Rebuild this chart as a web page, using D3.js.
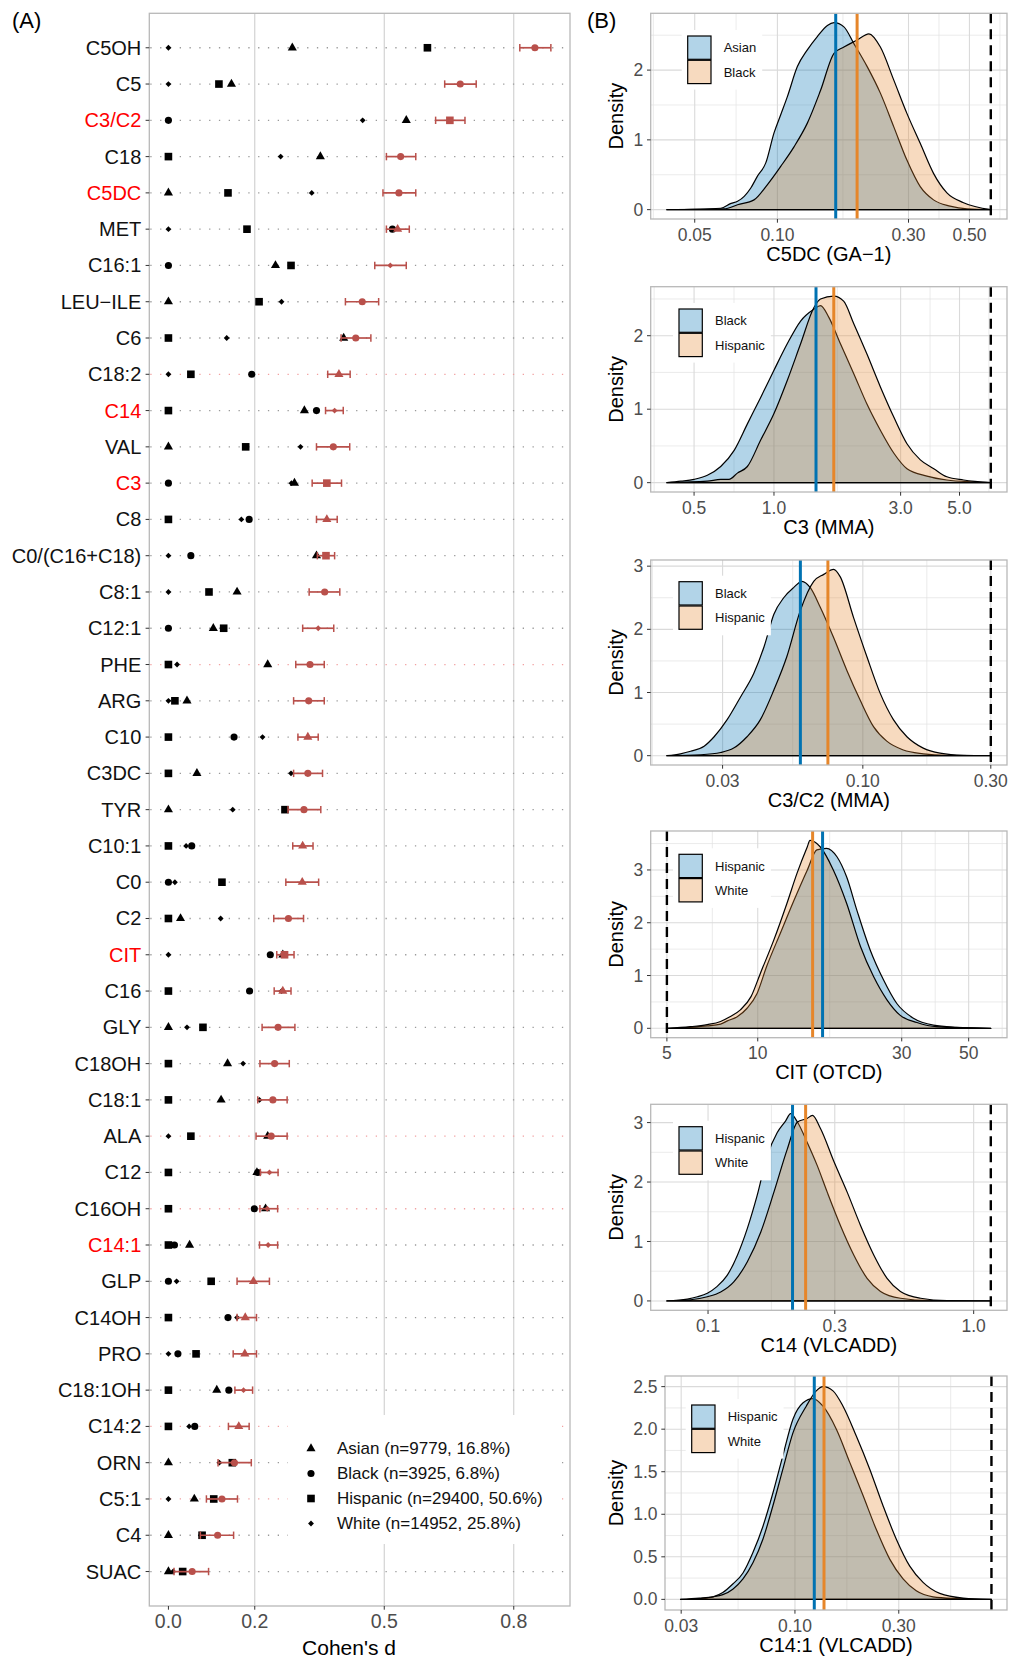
<!DOCTYPE html>
<html>
<head>
<meta charset="utf-8">
<script src="https://cdn.jsdelivr.net/npm/d3@7"></script>
<style>
  body { margin: 0; background: #fff; }
  svg { font-family: "Liberation Sans", Arial, sans-serif; }
</style>
</head>
<body>
<svg width="1020" height="1659"></svg>
<script>
// ---------- panel A data ----------
const metabolites = ["C5OH","C5","C3/C2","C18","C5DC","MET","C16:1","LEU−ILE","C6","C18:2",
  "C14","VAL","C3","C8","C0/(C16+C18)","C8:1","C12:1","PHE","ARG","C10","C3DC","TYR","C10:1",
  "C0","C2","CIT","C16","GLY","C18OH","C18:1","ALA","C12","C16OH","C14:1","GLP","C14OH","PRO",
  "C18:1OH","C14:2","ORN","C5:1","C4","SUAC"];
const redLabels = ["C3/C2","C5DC","C14","C3","CIT","C14:1"];
const pinkRows = ["C18:2","PHE","ALA","C16OH","C14:2","C5:1"];

const asian = [0.287,0.146,0.551,0.352,0,0.531,0.248,0,0.406,0.395,0.315,0,0.292,0.367,0.343,0.159,
  0.104,0.230,0.043,0.323,0.066,0,0.311,0.310,0.028,0.265,0.265,0,0.137,0.122,0.230,0.205,0.225,
  0.049,0.197,0.178,0.177,0.112,0.163,0,0.060,0,0];
const black = [0.849,0.676,0,0.538,0.534,0.519,0,0.449,0.434,0.193,0.343,0.382,0,0.187,0.052,0.362,
  0,0.328,0.325,0.152,0.323,0.314,0.054,0,0.278,0.236,0.188,0.254,0.246,0.242,0.238,0.207,0.199,
  0.014,0,0.138,0.022,0.140,0.061,0.153,0.124,0.114,0.055];
const hispanic = [0.600,0.117,0.652,0,0.138,0.182,0.284,0.210,0,0.052,0,0.179,0.367,0,0.365,0.094,
  0.128,0,0.015,0,0,0.270,0,0.124,0,0.269,0,0.080,0,0,0.052,0,0,0,0.099,0,0.064,0,0,0.148,0.105,
  0.078,0.033];
const white = [0,0,0.450,0.260,0.332,0,0.514,0.262,0.135,0,0.385,0.306,0.285,0.169,0,0,0.347,0.020,
  0,0.218,0.284,0.149,0.041,0.015,0.121,0,0.262,0.043,0.173,0.211,0,0.234,0.229,0.231,0.019,0.159,
  0,0.174,0.048,0.118,0,0.075,0.011];
const ciLow = [0.814,0.640,0.619,0.505,0.497,0.505,0.478,0.410,0.400,0.369,0.364,0.343,0.333,0.343,
  0.345,0.326,0.311,0.295,0.290,0.300,0.290,0.277,0.288,0.272,0.244,0.251,0.245,0.217,0.212,0.207,
  0.203,0.213,0.212,0.211,0.159,0.159,0.150,0.154,0.139,0.115,0.088,0.074,0.013];
const ciHigh = [0.886,0.713,0.687,0.573,0.573,0.558,0.551,0.487,0.469,0.421,0.405,0.420,0.401,0.391,
  0.385,0.397,0.383,0.361,0.361,0.347,0.357,0.353,0.335,0.348,0.313,0.291,0.284,0.293,0.280,0.275,
  0.275,0.254,0.253,0.253,0.234,0.204,0.204,0.195,0.187,0.192,0.160,0.151,0.093];

const cohenTicks = [0, 0.2, 0.5, 0.8];
const cohenGrid = [0.2, 0.5, 0.8];
const groupNames = ["Asian","Black","Hispanic","White"];
const legendLabels = ["Asian (n=9779, 16.8%)","Black (n=3925, 6.8%)","Hispanic (n=29400, 50.6%)","White (n=14952, 25.8%)"];

// ---------- panel B data: [value, density] ----------
const c5dcAsian = [[0.0396,0],[0.0622,0.02],[0.0678,0.09],[0.0716,0.12],[0.0757,0.19],[0.080,0.31],
  [0.0846,0.48],[0.0907,0.67],[0.0972,1.10],[0.1028,1.36],[0.1087,1.62],[0.1182,2.05],[0.1285,2.29],
  [0.1397,2.48],[0.152,2.64],[0.1607,2.68],[0.1746,2.62],[0.1898,2.38],[0.2122,2.05],[0.237,1.67],
  [0.265,1.19],[0.296,0.71],[0.331,0.33],[0.370,0.14],[0.425,0.05],[0.490,0.01],[0.598,0]];
const c5dcBlack = [[0.0396,0],[0.064,0.01],[0.0716,0.07],[0.0822,0.14],[0.092,0.36],[0.1028,0.62],
  [0.1149,0.90],[0.1285,1.24],[0.1436,1.71],[0.1607,2.24],[0.1746,2.33],[0.195,2.43],[0.2153,2.52],
  [0.237,2.33],[0.265,1.86],[0.296,1.38],[0.331,0.95],[0.370,0.52],[0.414,0.24],[0.476,0.10],[0.598,0]];
const c3Black = [[0.395,0],[0.446,0.02],[0.50,0.045],[0.561,0.10],[0.630,0.22],[0.708,0.44],[0.794,0.80],
  [0.891,1.16],[1.0,1.53],[1.122,1.89],[1.26,2.20],[1.413,2.36],[1.497,2.41],[1.61,2.25],[1.78,1.89],
  [2.0,1.48],[2.24,1.07],[2.52,0.71],[2.83,0.40],[3.17,0.19],[3.77,0.09],[4.48,0.036],[5.65,0.01],[6.56,0]];
const c3Hispanic = [[0.395,0],[0.561,0.02],[0.63,0.045],[0.677,0.045],[0.728,0.13],[0.794,0.22],
  [0.891,0.58],[1.0,0.94],[1.122,1.39],[1.26,1.89],[1.413,2.38],[1.497,2.50],[1.68,2.54],[1.83,2.47],
  [2.0,2.16],[2.24,1.75],[2.52,1.30],[2.83,0.89],[3.17,0.53],[3.56,0.31],[4.0,0.19],[4.48,0.08],
  [5.18,0.036],[6.56,0]];
const c3c2Black = [[0.0186,0],[0.0209,0.03],[0.0228,0.07],[0.0256,0.15],[0.0279,0.30],[0.0312,0.57],
  [0.035,0.93],[0.0392,1.30],[0.0428,1.72],[0.0466,2.24],[0.0507,2.50],[0.0552,2.66],[0.0593,2.76],
  [0.0637,2.66],[0.0694,2.35],[0.0778,1.87],[0.0872,1.35],[0.0977,0.88],[0.1096,0.46],[0.1228,0.23],
  [0.1416,0.09],[0.168,0.03],[0.205,0.005],[0.30,0]];
const c3c2Hispanic = [[0.0186,0],[0.0249,0.015],[0.0295,0.05],[0.033,0.12],[0.037,0.30],[0.0415,0.57],
  [0.0466,1.04],[0.0521,1.57],[0.0585,2.30],[0.0656,2.76],[0.0715,2.87],[0.0778,2.95],[0.0824,2.83],
  [0.0923,2.19],[0.1035,1.57],[0.116,0.99],[0.130,0.57],[0.146,0.30],[0.168,0.12],[0.194,0.04],
  [0.237,0.005],[0.30,0]];
const citHispanic = [[5.0,0],[5.98,0.02],[6.8,0.045],[7.53,0.08],[7.93,0.14],[8.55,0.22],[9.22,0.38],
  [9.95,0.66],[10.7,1.17],[11.9,1.81],[13.2,2.43],[14.6,3.0],[15.7,3.38],[16.9,3.41],[18.3,3.25],
  [19.7,2.87],[21.3,2.24],[23.6,1.48],[26.1,0.92],[28.9,0.47],[32.8,0.19],[38.2,0.06],[45.6,0.02],[59.2,0]];
const citWhite = [[5.0,0],[5.98,0.03],[6.8,0.07],[7.53,0.13],[8.03,0.21],[8.76,0.35],[9.5,0.60],
  [10.2,1.04],[11.3,1.67],[12.5,2.37],[13.5,2.94],[14.6,3.44],[14.9,3.56],[16.1,3.44],[17.8,3.00],
  [19.7,2.37],[21.9,1.55],[24.2,0.98],[26.8,0.54],[29.6,0.25],[33.7,0.11],[39.2,0.03],[59.2,0]];
const c14Hispanic = [[0.070,0],[0.0836,0.03],[0.0912,0.07],[0.0994,0.13],[0.108,0.24],[0.118,0.43],
  [0.129,0.77],[0.1406,1.22],[0.153,1.77],[0.167,2.44],[0.182,2.83],[0.196,3.03],[0.2045,3.15],
  [0.217,3.01],[0.236,2.67],[0.2575,2.28],[0.281,1.83],[0.315,1.27],[0.354,0.77],[0.397,0.38],
  [0.446,0.16],[0.530,0.045],[0.687,0.005],[1.16,0]];
const c14White = [[0.070,0],[0.086,0.02],[0.0994,0.07],[0.1116,0.15],[0.125,0.32],[0.1406,0.66],
  [0.158,1.16],[0.177,1.83],[0.1986,2.55],[0.217,3.01],[0.236,3.07],[0.247,3.12],[0.265,2.90],
  [0.298,2.34],[0.334,1.83],[0.375,1.27],[0.421,0.77],[0.472,0.38],[0.530,0.16],[0.631,0.045],
  [0.794,0.005],[1.16,0]];
const c141Hispanic = [[0.0298,0],[0.0364,0.01],[0.042,0.03],[0.0466,0.08],[0.0518,0.18],[0.0577,0.31],
  [0.0641,0.55],[0.0713,0.86],[0.0792,1.25],[0.088,1.69],[0.098,2.12],[0.109,2.31],[0.121,2.36],
  [0.1346,2.27],[0.155,2.0],[0.1786,1.61],[0.2056,1.22],[0.2366,0.82],[0.273,0.47],[0.314,0.24],
  [0.361,0.10],[0.431,0.03],[0.552,0.01],[0.80,0]];
const c141White = [[0.0298,0],[0.0364,0.015],[0.042,0.03],[0.0466,0.055],[0.0518,0.12],[0.0577,0.24],
  [0.0641,0.43],[0.0713,0.71],[0.0792,1.10],[0.088,1.53],[0.098,1.96],[0.1127,2.27],[0.1253,2.45],
  [0.1346,2.50],[0.1496,2.45],[0.1663,2.27],[0.1914,1.92],[0.2207,1.53],[0.254,1.10],[0.292,0.71],
  [0.337,0.39],[0.388,0.20],[0.463,0.07],[0.593,0.015],[0.80,0]];

const densityTitles = ["C5DC (GA−1)","C3 (MMA)","C3/C2 (MMA)","CIT (OTCD)","C14 (VLCADD)","C14:1 (VLCADD)"];
const densityGroups = [["Asian","Black"],["Black","Hispanic"],["Black","Hispanic"],
  ["Hispanic","White"],["Hispanic","White"],["Hispanic","White"]];
const densityCurves = [[c5dcAsian,c5dcBlack],[c3Black,c3Hispanic],[c3c2Black,c3c2Hispanic],
  [citHispanic,citWhite],[c14Hispanic,c14White],[c141Hispanic,c141White]];
const densityMedians = [[0.163,0.195],[1.44,1.68],[0.0585,0.0741],[16.4,15.2],[0.208,0.233],[0.1227,0.136]];
const cutoffs = [0.598, 6.56, 0.30, 5, 1.16, 0.80];
const densityXTicks = [[0.05,0.1,0.3,0.5],[0.5,1,3,5],[0.03,0.1,0.3],[5,10,30,50],[0.1,0.3,1],[0.03,0.1,0.3]];
const densityXLabels = [["0.05","0.10","0.30","0.50"],["0.5","1.0","3.0","5.0"],["0.03","0.10","0.30"],
  ["5","10","30","50"],["0.1","0.3","1.0"],["0.03","0.10","0.30"]];
const densityYTicks = [[0,1,2],[0,1,2],[0,1,2,3],[0,1,2,3],[0,1,2,3],[0,0.5,1,1.5,2,2.5]];

// ---------- drawing ----------
const svg = d3.select("svg");
const red = "#b9504b";
const gray = "#4d4d4d";
const blueFill = "#0072B2";
const orangeFill = "#E6862A";

svg.append("text").attr("x", 12).attr("y", 28).attr("font-size", 22).text("(A)");
svg.append("text").attr("x", 587).attr("y", 28).attr("font-size", 22).text("(B)");

// panel A
const pa = {left: 149.3, right: 570, top: 13.3, bottom: 1606};
const dMax = d3.max(ciHigh);
const x = d3.scaleLinear().domain([-0.05 * dMax, 1.05 * dMax]).range([pa.left, pa.right]);
const y = d3.scalePoint().domain(metabolites).range([pa.top, pa.bottom]).padding(0.95);

const gA = svg.append("g");

gA.selectAll(".vgrid").data(cohenGrid).join("line")
  .attr("x1", d => x(d)).attr("x2", d => x(d))
  .attr("y1", pa.top).attr("y2", pa.bottom)
  .attr("stroke", "#cfcfcf").attr("stroke-width", 1.1);

gA.selectAll(".hgrid").data(metabolites).join("line")
  .attr("x1", pa.left + 1).attr("x2", pa.right)
  .attr("y1", d => y(d)).attr("y2", d => y(d))
  .attr("stroke", d => pinkRows.includes(d) ? "#f2a0a0" : "#9a9a9a")
  .attr("stroke-width", 1.3)
  .attr("stroke-dasharray", "1.3,8.5");

const symbols = {
  Asian: d3.symbol(d3.symbolTriangle, 36),
  Black: d3.symbol(d3.symbolCircle, 40),
  Hispanic: d3.symbol(d3.symbolSquare, 58),
  White: d3.symbol(d3.symbolSquare, 17)
};
const rotation = {Asian: 0, Black: 0, Hispanic: 0, White: 45};
const seriesValues = [asian, black, hispanic, white];

const rows = metabolites.map((m, i) => {
  const vals = groupNames.map((g, k) => ({group: g, value: seriesValues[k][i], m}));
  const top = d3.greatest(vals, d => d.value);
  return {m, vals, top, lo: ciLow[i], hi: ciHigh[i]};
});

const blackPts = rows.flatMap(r => r.vals.filter(v => v !== r.top));
gA.selectAll(".pt").data(blackPts).join("path")
  .attr("d", d => symbols[d.group]())
  .attr("transform", d => `translate(${x(d.value)},${y(d.m)}) rotate(${rotation[d.group]})`)
  .attr("fill", "#000");

const eb = gA.selectAll(".eb").data(rows).join("g")
  .attr("transform", d => `translate(0,${y(d.m)})`);
eb.append("line").attr("x1", d => x(d.lo)).attr("x2", d => x(d.hi))
  .attr("stroke", red).attr("stroke-width", 1.7);
eb.append("line").attr("x1", d => x(d.lo)).attr("x2", d => x(d.lo)).attr("y1", -3.7).attr("y2", 3.7)
  .attr("stroke", red).attr("stroke-width", 1.5);
eb.append("line").attr("x1", d => x(d.hi)).attr("x2", d => x(d.hi)).attr("y1", -3.7).attr("y2", 3.7)
  .attr("stroke", red).attr("stroke-width", 1.5);
eb.append("path")
  .attr("d", d => symbols[d.top.group]())
  .attr("transform", d => `translate(${x(d.top.value)},0) rotate(${rotation[d.top.group]})`)
  .attr("fill", red);

// frame
gA.append("rect").attr("x", pa.left).attr("y", pa.top)
  .attr("width", pa.right - pa.left).attr("height", pa.bottom - pa.top)
  .attr("fill", "none").attr("stroke", "#b8b8b8").attr("stroke-width", 1.3);

// y axis labels
gA.selectAll(".ylab").data(metabolites).join("text")
  .attr("x", pa.left - 8).attr("y", d => y(d)).attr("dy", "0.35em")
  .attr("text-anchor", "end").attr("font-size", 20)
  .attr("fill", d => redLabels.includes(d) ? "#ff0000" : "#111")
  .text(d => d);
gA.selectAll(".ytick").data(metabolites).join("line")
  .attr("x1", pa.left - 3.7).attr("x2", pa.left)
  .attr("y1", d => y(d)).attr("y2", d => y(d))
  .attr("stroke", "#333").attr("stroke-width", 1);

// x axis
gA.selectAll(".xtick").data(cohenTicks).join("line")
  .attr("x1", d => x(d)).attr("x2", d => x(d))
  .attr("y1", pa.bottom).attr("y2", pa.bottom + 3.7)
  .attr("stroke", "#333").attr("stroke-width", 1);
gA.selectAll(".xlab").data(cohenTicks).join("text")
  .attr("x", d => x(d)).attr("y", pa.bottom + 22)
  .attr("text-anchor", "middle").attr("font-size", 19.5).attr("fill", gray)
  .text(d => d3.format(".1f")(d));
gA.append("text").attr("x", 349).attr("y", 1655)
  .attr("text-anchor", "middle").attr("font-size", 21).text("Cohen's d");

// legend A
const legA = gA.append("g");
legA.append("rect").attr("x", 288).attr("y", 1415).attr("width", 274).attr("height", 129).attr("fill", "#fff");
legendLabels.forEach((lab, k) => {
  const ly = 1448.5 + k * 25;
  legA.append("path").attr("d", symbols[groupNames[k]]())
    .attr("transform", `translate(311,${ly}) rotate(${rotation[groupNames[k]]})`).attr("fill", "#000");
  legA.append("text").attr("x", 337).attr("y", ly).attr("dy", "0.35em")
    .attr("font-size", 17).attr("fill", "#111").text(lab);
});

// panel B
const bLayout = [
  {top: 13.3, bottom: 219, left: 650.7, lx: 37, ly: 22.7},
  {top: 286.7, bottom: 492, left: 650.7, lx: 28.3, ly: 22.3},
  {top: 560, bottom: 765, left: 650.7, lx: 28.3, ly: 21.7},
  {top: 831, bottom: 1037.7, left: 650.7, lx: 28.3, ly: 23.3},
  {top: 1104.3, bottom: 1310.3, left: 650.7, lx: 28.3, ly: 22.4},
  {top: 1376, bottom: 1610, left: 665, lx: 26.7, ly: 29}
];
const bRight = 1007;

function minorBreaks(breaks, lo, hi) {
  const n = breaks.length;
  const ext = [breaks[0] - (breaks[1] - breaks[0]), ...breaks, breaks[n - 1] + (breaks[n - 1] - breaks[n - 2])];
  const out = [];
  for (let i = 0; i < ext.length - 1; i++) out.push((ext[i] + ext[i + 1]) / 2);
  return out.filter(v => v > lo && v < hi);
}

densityTitles.forEach((title, i) => {
  const L = bLayout[i];
  const curves = densityCurves[i];
  const allPts = curves.flat();
  const [l0, l1] = d3.extent(allPts, d => Math.log10(d[0]));
  const px = (l1 - l0) * 0.05;
  const xs = d3.scaleLog().domain([10 ** (l0 - px), 10 ** (l1 + px)]).range([L.left, bRight]);
  const yMax = d3.max(allPts, d => d[1]);
  const ys = d3.scaleLinear().domain([-0.05 * yMax, 1.05 * yMax]).range([L.bottom, L.top]);
  const g = svg.append("g");

  // grid
  const logTicks = densityXTicks[i].map(Math.log10);
  const xMinor = minorBreaks(logTicks, l0 - px, l1 + px).map(v => 10 ** v);
  const yMinor = minorBreaks(densityYTicks[i], -0.05 * yMax, 1.05 * yMax);
  g.selectAll(".xm").data(xMinor).join("line")
    .attr("x1", d => xs(d)).attr("x2", d => xs(d)).attr("y1", L.top).attr("y2", L.bottom)
    .attr("stroke", "#e3e3e3").attr("stroke-width", 0.7);
  g.selectAll(".ym").data(yMinor).join("line")
    .attr("x1", L.left).attr("x2", bRight).attr("y1", d => ys(d)).attr("y2", d => ys(d))
    .attr("stroke", "#e3e3e3").attr("stroke-width", 0.7);
  g.selectAll(".xg").data(densityXTicks[i]).join("line")
    .attr("x1", d => xs(d)).attr("x2", d => xs(d)).attr("y1", L.top).attr("y2", L.bottom)
    .attr("stroke", "#dadada").attr("stroke-width", 1.1);
  g.selectAll(".yg").data(densityYTicks[i]).join("line")
    .attr("x1", L.left).attr("x2", bRight).attr("y1", d => ys(d)).attr("y2", d => ys(d))
    .attr("stroke", "#dadada").attr("stroke-width", 1.1);

  // densities
  const area = d3.area()
    .x(d => xs(d[0])).y0(ys(0)).y1(d => ys(d[1]))
    .curve(d3.curveMonotoneX);
  const fills = [blueFill, orangeFill];
  curves.forEach((c, k) => {
    g.append("path").attr("d", area(c))
      .attr("fill", fills[k]).attr("fill-opacity", 0.3)
      .attr("stroke", "#000").attr("stroke-width", 1.2).attr("stroke-linejoin", "round");
  });

  // medians and cutoff
  densityMedians[i].forEach((m, k) => {
    g.append("line").attr("x1", xs(m)).attr("x2", xs(m)).attr("y1", L.top).attr("y2", L.bottom)
      .attr("stroke", fills[k]).attr("stroke-width", 3);
  });
  g.append("line").attr("x1", xs(cutoffs[i])).attr("x2", xs(cutoffs[i]))
    .attr("y1", L.top).attr("y2", L.bottom)
    .attr("stroke", "#000").attr("stroke-width", 2.4).attr("stroke-dasharray", "10,6");

  // frame
  g.append("rect").attr("x", L.left).attr("y", L.top)
    .attr("width", bRight - L.left).attr("height", L.bottom - L.top)
    .attr("fill", "none").attr("stroke", "#b8b8b8").attr("stroke-width", 1.3);

  // axes
  g.selectAll(".xt").data(densityXTicks[i]).join("line")
    .attr("x1", d => xs(d)).attr("x2", d => xs(d)).attr("y1", L.bottom).attr("y2", L.bottom + 3.7)
    .attr("stroke", "#333");
  g.selectAll(".xl").data(densityXTicks[i]).join("text")
    .attr("x", d => xs(d)).attr("y", L.bottom + 21.5)
    .attr("text-anchor", "middle").attr("font-size", 17.5).attr("fill", gray)
    .text((d, j) => densityXLabels[i][j]);
  const yFmt = densityYTicks[i].some(v => !Number.isInteger(v)) ? d3.format(".1f") : d3.format("d");
  g.selectAll(".yt").data(densityYTicks[i]).join("line")
    .attr("x1", L.left - 3.7).attr("x2", L.left).attr("y1", d => ys(d)).attr("y2", d => ys(d))
    .attr("stroke", "#333");
  g.selectAll(".yl").data(densityYTicks[i]).join("text")
    .attr("x", L.left - 7.5).attr("y", d => ys(d)).attr("dy", "0.35em")
    .attr("text-anchor", "end").attr("font-size", 17.5).attr("fill", gray)
    .text(d => yFmt(d));
  g.append("text").attr("x", (L.left + bRight) / 2).attr("y", L.bottom + 41.5)
    .attr("text-anchor", "middle").attr("font-size", 20).text(title);
  g.append("text")
    .attr("transform", `translate(623,${(L.top + L.bottom) / 2}) rotate(-90)`)
    .attr("text-anchor", "middle").attr("font-size", 20).text("Density");

  // legend
  const kx = L.left + L.lx, ky = L.top + L.ly, ks = 23.3;
  const leg = g.append("g");
  const bg = leg.append("rect").attr("fill", "#fff");
  let maxW = 0;
  densityGroups[i].forEach((name, k) => {
    leg.append("rect").attr("x", kx).attr("y", ky + k * (ks + 1)).attr("width", ks).attr("height", ks)
      .attr("fill", fills[k]).attr("fill-opacity", 0.3).attr("stroke", "#000").attr("stroke-width", 1.2);
    const t = leg.append("text").attr("x", kx + 36).attr("y", ky + k * (ks + 1) + ks / 2)
      .attr("dy", "0.35em").attr("font-size", 13).attr("fill", "#111").text(name);
    maxW = Math.max(maxW, t.node().getComputedTextLength());
  });
  bg.attr("x", kx - 6).attr("y", ky - 6).attr("width", 36 + maxW + 12).attr("height", 2 * ks + 13);
});
</script>
</body>
</html>
